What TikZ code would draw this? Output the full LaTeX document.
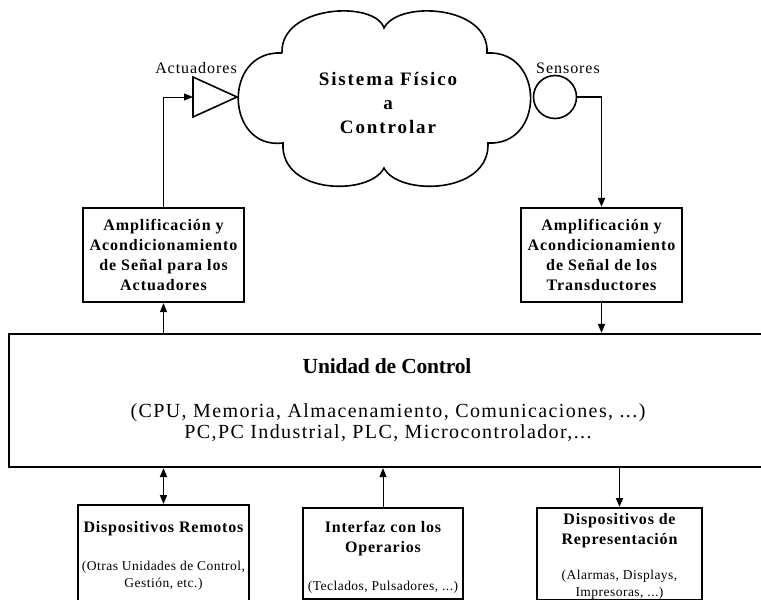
\documentclass[tikz,border=0pt]{standalone}
\usepackage{fontspec}
\setmainfont{Liberation Serif}
\usetikzlibrary{arrows.meta,positioning}

\newcommand{\ampfont}{\fontsize{16}{20}\selectfont\bfseries\addfontfeatures{LetterSpace=6}}
\newcommand{\cloudfont}{\fontsize{19}{24}\selectfont\bfseries\addfontfeatures{LetterSpace=10}}
\newcommand{\lblfont}{\fontsize{16}{18}\selectfont\addfontfeatures{LetterSpace=6}}
\newcommand{\ucfont}{\fontsize{21.5}{24}\selectfont\bfseries\addfontfeatures{LetterSpace=-1}}
\newcommand{\ucdescfont}{\fontsize{20}{21}\selectfont\addfontfeatures{LetterSpace=7}}
\newcommand{\devtitlefont}{\fontsize{16}{20}\selectfont\bfseries\addfontfeatures{LetterSpace=5}}
\newcommand{\devnotefont}{\fontsize{13.5}{17}\selectfont\addfontfeatures{LetterSpace=3.5}}

\begin{document}
\begin{tikzpicture}[x=1pt,y=1pt,
  ampbox/.style={draw, line width=2.2pt, minimum width=161, minimum height=94, align=center, font=\ampfont, inner sep=0pt},
  devbox/.style={draw, line width=2.2pt, anchor=north, inner sep=0pt},
  link/.style={line width=1pt, -{Triangle[length=9pt,width=7pt]}},
  boldlink/.style={link, line width=1.8pt}]

\useasboundingbox (0,0) rectangle (761,-600);

% Sistema fisico (nube)
\draw[line width=1.6pt] (282,-53)
  .. controls (280,-5) and (375,0) .. (384,-28)
  .. controls (398,0) and (490,-5) .. (487,-53)
  .. controls (545,-50) and (545,-146) .. (488,-143)
  .. controls (490,-195) and (398,-196) .. (384,-168)
  .. controls (370,-196) and (280,-195) .. (283,-143)
  .. controls (225,-150) and (222,-50) .. (282,-53);
\node[font=\cloudfont, align=center] (sistema) at (388,-103) {Sistema Físico\\a\\Controlar};

% Actuadores y sensores
\draw[line width=1.6pt] (193,-77) -- (237,-97) -- (193,-117) -- cycle;
\coordinate (actin) at (193,-97);
\node[font=\lblfont] (actlbl) at (196,-68) {Actuadores};
\node[circle, draw, line width=1.6pt, minimum size=43, inner sep=0pt] (sensor) at (555,-97) {};
\node[font=\lblfont] (senlbl) at (568,-68) {Sensores};

% Acondicionamiento
\node[ampbox] (ampact) at (163.5,-255) {Amplificación y\\Acondicionamiento\\de Señal para los\\Actuadores};
\node[ampbox] (ampsen) at (601.5,-255) {Amplificación y\\Acondicionamiento\\de Señal de los\\Transductores};

% Unidad de control
\node[draw, line width=2.2pt, minimum width=766, minimum height=133, inner sep=0pt] (control) at (392,-400.5) {};
\node[font=\ucfont] (uctitle) at (387,-366) {Unidad de Control};
\node[font=\ucdescfont, align=center] (ucdesc) at (388,-423) {(CPU, Memoria, Almacenamiento, Comunicaciones, ...)\\PC,PC Industrial, PLC, Microcontrolador,...};

% Dispositivos
\node[devbox, minimum width=171, minimum height=110] (remotos) at (163.5,-504) {};
\node[devbox, minimum width=160, minimum height=91] (interfaz) at (383,-507) {};
\node[devbox, minimum width=165, minimum height=92] (repres) at (619.5,-507) {};

\node[font=\devtitlefont] (remtitle) at (163.5,-529) {Dispositivos Remotos};
\node[font=\devnotefont, align=center] (remnote) at (163.5,-575.5) {(Otras Unidades de Control,\\Gestión, etc.)};
\node[font=\devtitlefont, align=center] (inttitle) at (383,-538.5) {Interfaz con los\\Operarios};
\node[font=\devnotefont] (intnote) at (383,-587) {(Teclados, Pulsadores, ...)};
\node[font=\devtitlefont, align=center] (reptitle) at (619.5,-530.5) {Dispositivos de\\Representación};
\node[font=\devnotefont, align=center] (repnote) at (619.5,-585) {(Alarmas, Displays,\\Impresoras, ...)};

% Conexiones
\draw[link] (ampact.north) |- (actin);
\draw[link] (ampact.south |- control.north) -- (ampact.south);
\draw[boldlink] (sensor.east) -| (ampsen.north);
\draw[boldlink] (ampsen.south) -- (ampsen.south |- control.north);
\draw[boldlink, {Triangle[length=9pt,width=7pt]}-{Triangle[length=9pt,width=7pt]}] (remotos.north |- control.south) -- (remotos.north);
\draw[link] (interfaz.north) -- (interfaz.north |- control.south);
\draw[boldlink] (repres.north |- control.south) -- (repres.north);

\end{tikzpicture}
\end{document}
